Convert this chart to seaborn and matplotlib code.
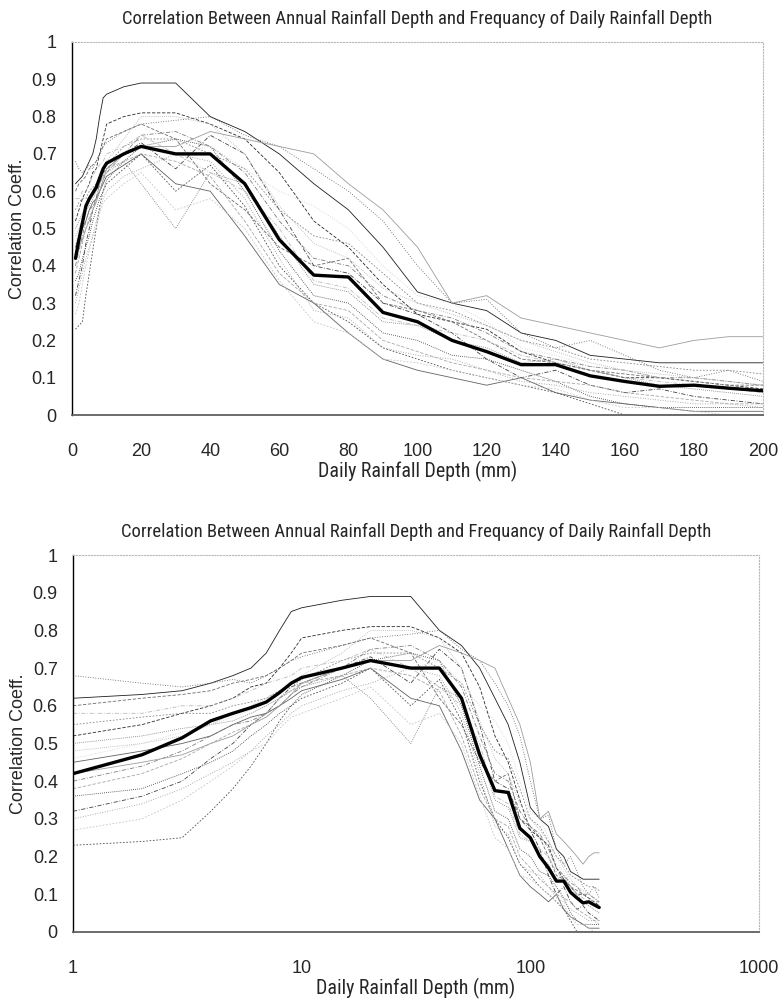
import numpy as np
import pandas as pd
import matplotlib
matplotlib.use("Agg")
import matplotlib.pyplot as plt
from matplotlib import font_manager
import seaborn as sns

TITLE = "Correlation Between Annual Rainfall Depth and Frequancy of Daily Rainfall Depth"
XLABEL = "Daily Rainfall Depth (mm)"
YLABEL = "Correlation Coeff."

# daily rainfall depth thresholds (mm)
depth = [1, 2, 3, 4, 5, 6, 7, 8, 9, 10, 15, 20, 30, 40, 50, 60, 70, 80, 90, 100,
         110, 120, 130, 140, 150, 160, 170, 180, 190, 200]

# average over all stations (bold line)
mean_corr = [0.42, 0.47, 0.515, 0.56, 0.58, 0.595, 0.61, 0.635, 0.66, 0.675, 0.70, 0.72,
             0.70, 0.70, 0.62, 0.47, 0.375, 0.37, 0.275, 0.25, 0.20, 0.17, 0.135, 0.135,
             0.105, 0.09, 0.077, 0.08, 0.072, 0.065]

# individual stations (thin grey lines)
st01 = [0.62, 0.63, 0.64, 0.66, 0.68, 0.70, 0.74, 0.80, 0.85, 0.86, 0.88, 0.89, 0.89, 0.80, 0.76,
        0.70, 0.62, 0.55, 0.45, 0.33, 0.30, 0.28, 0.22, 0.20, 0.16, 0.15, 0.14, 0.14, 0.14, 0.14]
st02 = [0.52, 0.55, 0.58, 0.60, 0.62, 0.65, 0.66, 0.70, 0.74, 0.78, 0.80, 0.81, 0.81, 0.78, 0.74,
        0.65, 0.52, 0.45, 0.35, 0.27, 0.25, 0.23, 0.17, 0.14, 0.12, 0.10, 0.10, 0.09, 0.08, 0.07]
st03 = [0.36, 0.38, 0.42, 0.45, 0.48, 0.52, 0.55, 0.58, 0.60, 0.63, 0.68, 0.72, 0.74, 0.72, 0.60,
        0.44, 0.32, 0.30, 0.22, 0.20, 0.16, 0.15, 0.12, 0.09, 0.05, 0.03, 0.02, 0.02, 0.02, 0.02]
st04 = [0.32, 0.36, 0.40, 0.46, 0.50, 0.55, 0.58, 0.62, 0.65, 0.66, 0.70, 0.73, 0.66, 0.75, 0.70,
        0.55, 0.40, 0.38, 0.30, 0.27, 0.22, 0.15, 0.10, 0.12, 0.08, 0.06, 0.07, 0.05, 0.04, 0.03]
st05 = [0.23, 0.24, 0.25, 0.32, 0.38, 0.44, 0.50, 0.56, 0.60, 0.62, 0.66, 0.70, 0.60, 0.67, 0.56,
        0.40, 0.30, 0.25, 0.18, 0.15, 0.12, 0.10, 0.08, 0.06, 0.03, 0.00, 0.00, 0.00, 0.00, 0.00]
st06 = [0.68, 0.66, 0.65, 0.66, 0.67, 0.66, 0.68, 0.70, 0.72, 0.73, 0.76, 0.78, 0.79, 0.80, 0.75,
        0.72, 0.66, 0.60, 0.52, 0.40, 0.30, 0.31, 0.22, 0.18, 0.20, 0.16, 0.12, 0.10, 0.12, 0.09]
st07 = [0.45, 0.48, 0.50, 0.52, 0.55, 0.57, 0.58, 0.60, 0.62, 0.64, 0.67, 0.70, 0.62, 0.60, 0.48,
        0.35, 0.30, 0.22, 0.15, 0.12, 0.10, 0.08, 0.10, 0.06, 0.04, 0.03, 0.02, 0.01, 0.01, 0.01]
st08 = [0.60, 0.62, 0.63, 0.64, 0.66, 0.67, 0.68, 0.70, 0.72, 0.74, 0.76, 0.78, 0.74, 0.62, 0.55,
        0.45, 0.40, 0.42, 0.30, 0.28, 0.25, 0.20, 0.15, 0.14, 0.12, 0.11, 0.10, 0.09, 0.08, 0.08]
st09 = [0.50, 0.52, 0.54, 0.55, 0.56, 0.58, 0.60, 0.62, 0.64, 0.65, 0.68, 0.62, 0.50, 0.65, 0.62,
        0.48, 0.35, 0.33, 0.25, 0.24, 0.20, 0.18, 0.14, 0.15, 0.12, 0.10, 0.08, 0.07, 0.06, 0.05]
st10 = [0.40, 0.44, 0.48, 0.52, 0.55, 0.56, 0.58, 0.60, 0.63, 0.65, 0.70, 0.75, 0.76, 0.72, 0.65,
        0.52, 0.42, 0.40, 0.32, 0.28, 0.26, 0.22, 0.17, 0.15, 0.13, 0.12, 0.10, 0.10, 0.09, 0.08]
st11 = [0.55, 0.57, 0.58, 0.58, 0.60, 0.61, 0.62, 0.64, 0.65, 0.67, 0.72, 0.74, 0.74, 0.70, 0.66,
        0.55, 0.48, 0.46, 0.38, 0.30, 0.28, 0.24, 0.20, 0.18, 0.15, 0.14, 0.13, 0.12, 0.12, 0.11]
st12 = [0.30, 0.34, 0.38, 0.42, 0.45, 0.48, 0.52, 0.55, 0.58, 0.60, 0.64, 0.66, 0.70, 0.68, 0.58,
        0.42, 0.28, 0.26, 0.18, 0.16, 0.15, 0.12, 0.09, 0.08, 0.06, 0.05, 0.04, 0.03, 0.03, 0.02]
st13 = [0.42, 0.45, 0.47, 0.50, 0.52, 0.55, 0.57, 0.60, 0.63, 0.66, 0.70, 0.72, 0.72, 0.76, 0.74,
        0.72, 0.70, 0.62, 0.55, 0.45, 0.30, 0.32, 0.26, 0.24, 0.22, 0.20, 0.18, 0.20, 0.21, 0.21]
st14 = [0.38, 0.42, 0.46, 0.50, 0.53, 0.55, 0.58, 0.62, 0.64, 0.66, 0.68, 0.70, 0.68, 0.64, 0.52,
        0.38, 0.30, 0.28, 0.20, 0.17, 0.14, 0.12, 0.10, 0.09, 0.08, 0.06, 0.05, 0.04, 0.03, 0.03]
st15 = [0.48, 0.50, 0.52, 0.55, 0.58, 0.60, 0.62, 0.64, 0.66, 0.68, 0.74, 0.80, 0.80, 0.78, 0.70,
        0.56, 0.46, 0.42, 0.34, 0.30, 0.27, 0.24, 0.20, 0.17, 0.14, 0.12, 0.11, 0.10, 0.09, 0.08]
st16 = [0.58, 0.58, 0.60, 0.60, 0.62, 0.64, 0.66, 0.67, 0.68, 0.70, 0.72, 0.75, 0.70, 0.65, 0.60,
        0.50, 0.36, 0.34, 0.26, 0.24, 0.22, 0.20, 0.16, 0.14, 0.12, 0.10, 0.09, 0.08, 0.07, 0.06]
st17 = [0.27, 0.30, 0.35, 0.40, 0.44, 0.48, 0.50, 0.54, 0.57, 0.58, 0.62, 0.65, 0.55, 0.58, 0.50,
        0.36, 0.25, 0.22, 0.15, 0.14, 0.12, 0.10, 0.08, 0.07, 0.04, 0.02, 0.02, 0.01, 0.00, 0.00]
st18 = [0.46, 0.50, 0.53, 0.55, 0.57, 0.59, 0.60, 0.62, 0.64, 0.65, 0.70, 0.72, 0.70, 0.72, 0.66,
        0.60, 0.56, 0.50, 0.40, 0.32, 0.30, 0.25, 0.18, 0.16, 0.13, 0.12, 0.10, 0.09, 0.08, 0.08]

stations = [st01, st02, st03, st04, st05, st06, st07, st08, st09, st10,
            st11, st12, st13, st14, st15, st16, st17, st18]

# pick a condensed face for title / x label when one is installed
installed = {f.name for f in font_manager.fontManager.ttflist}
NARROW = None
for cand in ["Liberation Sans Narrow", "DejaVu Sans Condensed", "Roboto Condensed",
             "Open Sans Condensed"]:
    if cand in installed:
        NARROW = cand
        break


def narrow_font(size):
    if NARROW:
        return {"family": [NARROW, "DejaVu Sans"], "fontsize": size}
    return {"family": ["Liberation Sans", "DejaVu Sans"], "fontsize": size * 0.83,
            "fontstretch": "condensed"}


def build_frame():
    rows = []
    for i, vals in enumerate(stations):
        for d, v in zip(depth, vals):
            rows.append({"station": f"S{i + 1:02d}", "depth": d, "corr": v})
    return pd.DataFrame(rows)


def style_axes(ax):
    for side in ["top", "right"]:
        ax.spines[side].set_color("#b8b8b8")
        ax.spines[side].set_linestyle(":")
        ax.spines[side].set_linewidth(0.8)
    ax.spines["left"].set_color("black")
    ax.spines["left"].set_linewidth(1.0)
    ax.spines["bottom"].set_color("#606060")
    ax.spines["bottom"].set_linewidth(1.3)
    ax.set_ylim(0, 1)
    ax.set_yticks(np.arange(0, 1.01, 0.1))
    ax.set_yticklabels(["0"] + [f"{v:.1f}" for v in np.arange(0.1, 0.95, 0.1)] + ["1"])
    ax.tick_params(axis="y", direction="in", length=4, width=0.8, pad=11, labelsize=13)
    ax.tick_params(axis="x", direction="in", length=4, width=0.8, pad=20, labelsize=13,
                   color="#606060")
    ax.minorticks_off()
    ax.set_title(TITLE, pad=13, **narrow_font(13.4))
    ax.set_xlabel(XLABEL, labelpad=1, **narrow_font(14.3))
    ax.set_ylabel(YLABEL, fontsize=13, labelpad=4)


def draw(ax, df):
    n = len(stations)
    greys = sns.color_palette("Greys_r", n + 10)[2:n + 2]
    dash_opts = ["", (4, 2), (1, 1.5), (5, 2, 1, 2), (2, 2), (1, 2)]
    dashes = [dash_opts[i % len(dash_opts)] for i in range(n)]
    sns.lineplot(data=df, x="depth", y="corr", hue="station", style="station",
                 palette=greys, dashes=dashes, linewidth=0.6, estimator=None,
                 legend=False, ax=ax)
    sns.lineplot(x=depth, y=mean_corr, color="black", linewidth=2.4, ax=ax)


def main():
    sns.set_style("white")
    plt.rcParams["font.family"] = ["Liberation Sans", "DejaVu Sans"]

    df = build_frame()
    fig = plt.figure(figsize=(7.82, 10.02), dpi=100)
    ax1 = fig.add_axes([0.0921, 0.5858, 0.8836, 0.3723])
    ax2 = fig.add_axes([0.0934, 0.0699, 0.8772, 0.3762])

    draw(ax1, df)
    ax1.set_xlim(0, 200)
    ax1.set_xticks(range(0, 201, 20))
    style_axes(ax1)

    draw(ax2, df)
    ax2.set_xscale("log")
    ax2.set_xlim(1, 1000)
    ax2.set_xticks([1, 10, 100, 1000])
    ax2.set_xticklabels(["1", "10", "100", "1000"])
    style_axes(ax2)

    fig.savefig("out.png", dpi=100)


if __name__ == "__main__":
    main()
